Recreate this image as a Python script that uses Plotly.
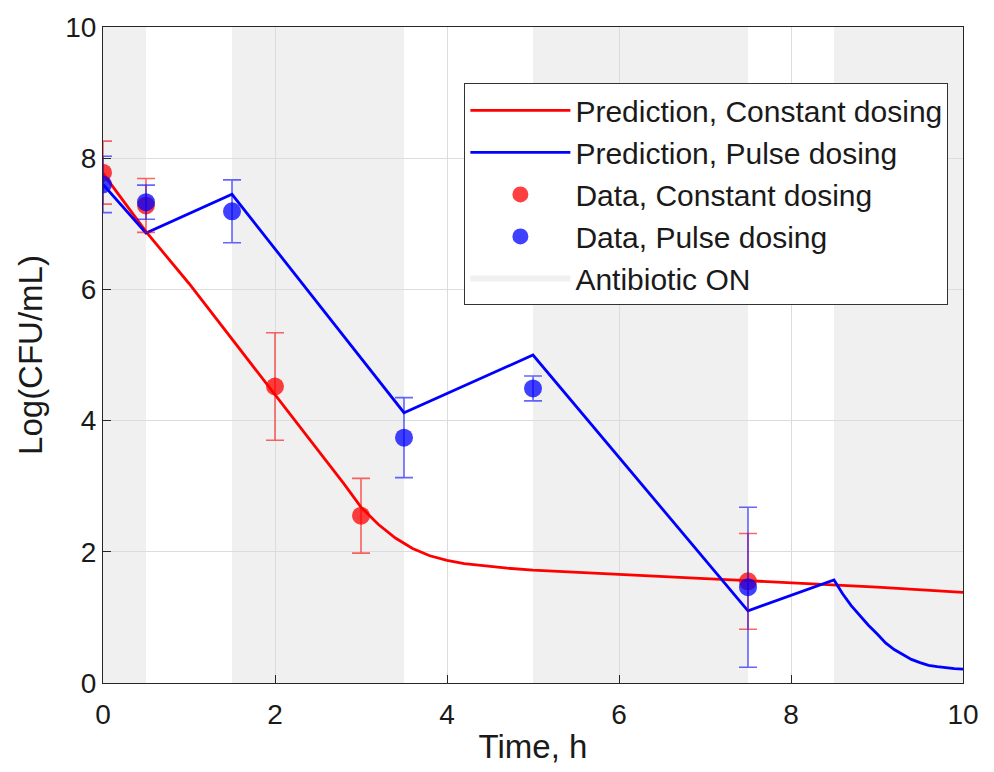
import plotly.graph_objects as go

# ---- data ----
on_start = [0, 1.5, 5.0, 8.5]
on_end = [0.5, 3.5, 7.5, 10.0]

t_const_pred = [0, 0.5, 1.0, 1.5, 2.0, 2.5, 2.8, 3.0, 3.2, 3.4, 3.6, 3.8, 4.0, 4.2, 4.4, 4.7, 5.0, 6.0, 7.0, 7.5, 8.0, 8.5, 9.0, 10.0]
y_const_pred = [7.77, 6.88, 6.09, 5.24, 4.40, 3.55, 3.04, 2.68, 2.42, 2.21, 2.05, 1.94, 1.87, 1.82, 1.79, 1.75, 1.72, 1.65, 1.59, 1.56, 1.53, 1.50, 1.46, 1.38]

t_pulse_pred = [0, 0.5, 1.5, 3.5, 5.0, 7.5, 8.5, 8.6, 8.7, 8.8, 8.9, 9.0, 9.1, 9.2, 9.3, 9.4, 9.5, 9.6, 9.7, 9.8, 9.9, 10.0]
y_pulse_pred = [7.60, 6.86, 7.45, 4.12, 5.00, 1.10, 1.57, 1.36, 1.18, 1.03, 0.88, 0.75, 0.61, 0.51, 0.43, 0.36, 0.31, 0.27, 0.25, 0.23, 0.22, 0.21]

t_const_data = [0, 0.5, 2, 3, 7.5]
y_const_data = [7.78, 7.28, 4.52, 2.55, 1.55]
e_const_data = [0.48, 0.41, 0.82, 0.57, 0.73]

t_pulse_data = [0, 0.5, 1.5, 3.5, 5, 7.5]
y_pulse_data = [7.60, 7.33, 7.19, 3.74, 4.49, 1.46]
e_pulse_data = [0.43, 0.26, 0.48, 0.61, 0.19, 1.22]

x_ticks = [0, 2, 4, 6, 8, 10]
y_ticks = [0, 2, 4, 6, 8, 10]

FONT = "Liberation Sans, Arial, Helvetica, sans-serif"
TXT = "#1a1a1a"
SHADE = "#f0f0f0"

fig = go.Figure()

# shaded antibiotic-on regions (below grid)
for s, e in zip(on_start, on_end):
    fig.add_shape(type="rect", xref="x", yref="y", x0=s, x1=e, y0=0, y1=10,
                  fillcolor=SHADE, line=dict(width=0), layer="below")

fig.add_trace(go.Scatter(x=t_const_pred, y=y_const_pred, mode="lines",
                         line=dict(color="#ff0000", width=2.8),
                         name="Prediction, Constant dosing"))
fig.add_trace(go.Scatter(x=t_pulse_pred, y=y_pulse_pred, mode="lines",
                         line=dict(color="#0000ff", width=2.8),
                         name="Prediction, Pulse dosing"))
fig.add_trace(go.Scatter(x=t_const_data, y=y_const_data, mode="markers",
                         marker=dict(color="rgba(255,0,0,0.75)", size=18),
                         error_y=dict(type="data", array=e_const_data, visible=True,
                                      color="rgba(255,0,0,0.6)", thickness=1.6, width=9),
                         name="Data, Constant dosing"))
fig.add_trace(go.Scatter(x=t_pulse_data, y=y_pulse_data, mode="markers",
                         marker=dict(color="rgba(0,0,255,0.75)", size=18),
                         error_y=dict(type="data", array=e_pulse_data, visible=True,
                                      color="rgba(0,0,255,0.6)", thickness=1.6, width=9),
                         name="Data, Pulse dosing"))
# legend entry for shaded regions
fig.add_trace(go.Scatter(x=[None], y=[None], mode="none", fill="toself",
                         fillcolor=SHADE, name="Antibiotic ON"))

fig.update_layout(
    width=994, height=772,
    margin=dict(l=103, r=31, t=18, b=89),
    paper_bgcolor="white", plot_bgcolor="white",
    font=dict(family=FONT, color=TXT, size=28),
    showlegend=True,
    legend=dict(x=0.983, y=0.914, xanchor="right", yanchor="top",
                bgcolor="white", bordercolor="#333333", borderwidth=1,
                font=dict(size=30, color=TXT), itemwidth=100,
                tracegroupgap=0),
    xaxis=dict(range=[0, 10], tickvals=x_ticks, ticktext=[str(v) for v in x_ticks],
               showgrid=True, gridcolor="#dcdcdc", gridwidth=1,
               showline=True, linecolor="#262626", linewidth=1, mirror=True,
               ticks="inside", ticklen=8, tickcolor="#262626",
               zeroline=False, tickfont=dict(size=28), ticklabelstandoff=6,
               title=dict(text="Time, h", font=dict(size=33), standoff=6)),
    yaxis=dict(range=[0, 10], tickvals=y_ticks, ticktext=[str(v) for v in y_ticks],
               showgrid=True, gridcolor="#dcdcdc", gridwidth=1,
               showline=True, linecolor="#262626", linewidth=1, mirror=True,
               ticks="inside", ticklen=8, tickcolor="#262626",
               zeroline=False, tickfont=dict(size=28),
               title=dict(text="Log(CFU/mL)", font=dict(size=33), standoff=12)),
)

fig.write_html("out.html")
